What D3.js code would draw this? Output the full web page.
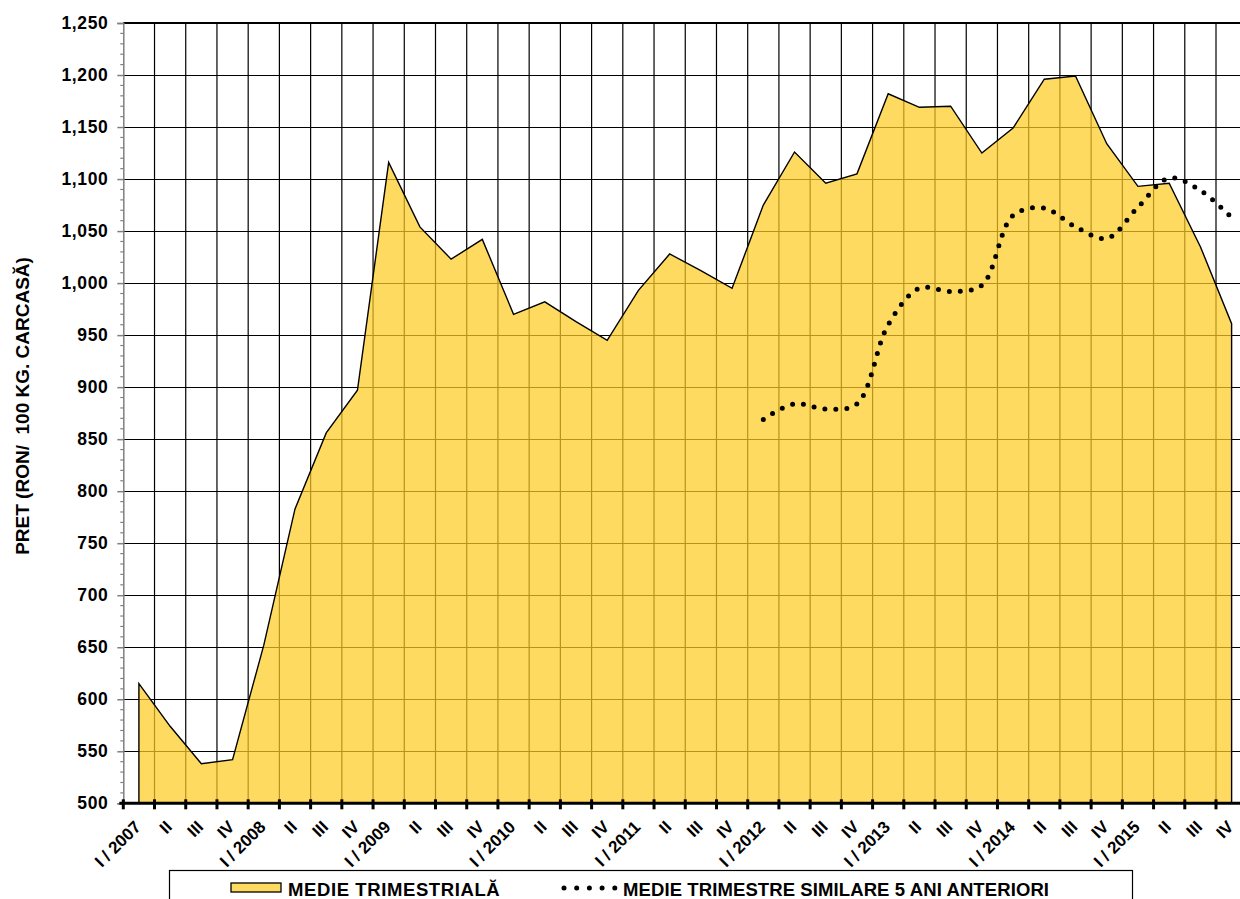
<!DOCTYPE html>
<html>
<head>
<meta charset="utf-8">
<script src="https://cdn.jsdelivr.net/npm/d3@7"></script>
<style>
  html, body { margin: 0; padding: 0; background: #fff; overflow: hidden; }
  svg { display: block; font-family: "Liberation Sans", Arial, sans-serif; font-weight: bold; }
</style>
</head>
<body>
<div id="container"></div>
<script>
// quarters I/2007 .. IV/2015
const quarters = ["I / 2007", "II", "III", "IV", "I / 2008", "II", "III", "IV", "I / 2009", "II", "III", "IV",
                  "I / 2010", "II", "III", "IV", "I / 2011", "II", "III", "IV", "I / 2012", "II", "III", "IV",
                  "I / 2013", "II", "III", "IV", "I / 2014", "II", "III", "IV", "I / 2015", "II", "III", "IV"];
const avgQuarter = [615, 574, 538, 542, 652, 783, 856, 897, 1116, 1054, 1023, 1042,
                    970, 982, 963, 945, 993, 1028, 1012, 995, 1075, 1126, 1096, 1105,
                    1182, 1169, 1170, 1125, 1149, 1196, 1199, 1134, 1093, 1096, 1035, 961];
const avg5Years = [null, null, null, null, null, null, null, null, null, null, null, null,
                   null, null, null, null, null, null, null, null, 869, 884, 879, 884,
                   960, 995, 992, 998, 1065, 1072, 1054, 1043, 1073, 1101, 1089, 1063];
const yTicks = [500, 550, 600, 650, 700, 750, 800, 850, 900, 950, 1000, 1050, 1100, 1150, 1200, 1250];
const legendLabels = ["MEDIE TRIMESTRIALĂ", "MEDIE TRIMESTRE SIMILARE 5 ANI ANTERIORI"];
const yTitle = "PRET (RON/  100 KG. CARCASĂ)";

const width = 1240;
const height = 899;
const plot = { left: 123.3, right: 123.3 + 36 * 31.22, top: 23, bottom: 803.3 };

const svg = d3.select("#container")
              .append("svg")
              .attr("width", width)
              .attr("height", height);

const idx = quarters.map((d, i) => i);
const xScale = d3.scaleBand()
                 .domain(idx)
                 .range([plot.left, plot.right])
                 .padding(0);
const bw = xScale.bandwidth();
const cx = (i) => xScale(i) + bw / 2;

const yScale = d3.scaleLinear()
                 .domain([500, 1250])
                 .range([plot.bottom, plot.top]);

// grid
const grid = svg.append("g").attr("id", "grid");
grid.selectAll("line.h")
    .data(yTicks.slice(1))
    .enter()
    .append("line")
    .attr("class", "h")
    .attr("x1", plot.left)
    .attr("x2", plot.right)
    .attr("y1", (d) => Math.round(yScale(d)) + 0.5)
    .attr("y2", (d) => Math.round(yScale(d)) + 0.5)
    .attr("stroke", "#000")
    .attr("stroke-width", 1.2);
grid.selectAll("line.v")
    .data(idx.slice(1))
    .enter()
    .append("line")
    .attr("class", "v")
    .attr("x1", (d) => xScale(d))
    .attr("x2", (d) => xScale(d))
    .attr("y1", plot.top)
    .attr("y2", plot.bottom)
    .attr("stroke", "#000")
    .attr("stroke-width", 1.2);

// area series
const area = d3.area()
               .x((d, i) => cx(i))
               .y0(yScale(500))
               .y1((d) => yScale(d));
svg.append("path")
   .datum(avgQuarter)
   .attr("d", area)
   .attr("fill", "#FFCC22")
   .attr("fill-opacity", 0.72)
   .attr("stroke", "#000")
   .attr("stroke-width", 1.4)
   .attr("stroke-linejoin", "miter");

// top border
svg.append("line")
   .attr("x1", plot.left)
   .attr("x2", plot.right)
   .attr("y1", plot.top)
   .attr("y2", plot.top)
   .attr("stroke", "#000")
   .attr("stroke-width", 2);

// y axis (grey, minor ticks every 10)
const yAxis = d3.axisLeft(yScale)
                .tickValues(yTicks)
                .tickSize(6)
                .tickPadding(9)
                .tickFormat(d3.format(","));
const yG = svg.append("g")
              .attr("transform", "translate(" + plot.left + ",0)")
              .call(yAxis);
yG.select(".domain").attr("stroke", "#808080").attr("stroke-width", 1.5);
yG.selectAll(".tick line").attr("stroke", "#808080").attr("stroke-width", 1.5);
yG.selectAll(".tick text")
  .attr("fill", "#000")
  .style("font-size", "17.5px")
  .style("letter-spacing", "0.6px")
  .style("font-weight", "bold")
  .style("font-family", "'Liberation Sans', Arial, sans-serif");
yG.append("g")
  .selectAll("line")
  .data(d3.range(510, 1250, 10).filter((d) => d % 50 != 0))
  .enter()
  .append("line")
  .attr("x1", -3)
  .attr("x2", 0)
  .attr("y1", (d) => yScale(d))
  .attr("y2", (d) => yScale(d))
  .attr("stroke", "#808080")
  .attr("stroke-width", 1.2);

// x axis
const xG = svg.append("g").attr("id", "x-axis");
xG.append("line")
  .attr("x1", plot.left - 4)
  .attr("x2", plot.right)
  .attr("y1", plot.bottom)
  .attr("y2", plot.bottom)
  .attr("stroke", "#000")
  .attr("stroke-width", 3);
xG.selectAll("line.tick")
  .data(idx.concat([36]))
  .enter()
  .append("line")
  .attr("class", "tick")
  .attr("x1", (d) => plot.left + d * bw)
  .attr("x2", (d) => plot.left + d * bw)
  .attr("y1", plot.bottom - 4)
  .attr("y2", plot.bottom + 6)
  .attr("stroke", "#000")
  .attr("stroke-width", 3);
xG.selectAll("text")
  .data(quarters)
  .enter()
  .append("text")
  .text((d) => d)
  .attr("text-anchor", "end")
  .attr("transform", (d, i) => "translate(" + (cx(i) + 3) + "," + 828 + ")rotate(-45)")
  .style("font-size", "17px");

// dotted series
const line = d3.line()
               .defined((d) => d != null)
               .x((d, i) => cx(i))
               .y((d) => yScale(d))
               .curve(d3.curveCatmullRom);
svg.append("path")
   .datum(avg5Years)
   .attr("d", line)
   .attr("fill", "none")
   .attr("stroke", "#000")
   .attr("stroke-width", 5)
   .attr("stroke-linecap", "round")
   .attr("stroke-dasharray", "0 11");

// y title
svg.append("text")
   .text(yTitle)
   .attr("text-anchor", "middle")
   .attr("transform", "translate(29,406)rotate(-90)")
   .style("font-size", "19px")
   .attr("xml:space", "preserve")
   .style("white-space", "pre");

// legend
const legend = svg.append("g").attr("id", "legend");
legend.append("rect")
      .attr("x", 169.5)
      .attr("y", 870.5)
      .attr("width", 963)
      .attr("height", 60)
      .attr("fill", "#fff")
      .attr("stroke", "#000")
      .attr("stroke-width", 1.2);
legend.append("rect")
      .attr("x", 231)
      .attr("y", 883)
      .attr("width", 50)
      .attr("height", 9)
      .attr("fill", "#FFCC22")
      .attr("fill-opacity", 0.72)
      .attr("stroke", "#000")
      .attr("stroke-width", 1.3);
legend.append("text")
      .text(legendLabels[0])
      .attr("x", 288)
      .attr("y", 896)
      .style("font-size", "18.5px")
      .style("letter-spacing", "0.6px");
legend.append("line")
      .attr("x1", 564)
      .attr("x2", 616)
      .attr("y1", 888)
      .attr("y2", 888)
      .attr("stroke", "#000")
      .attr("stroke-width", 5)
      .attr("stroke-linecap", "round")
      .attr("stroke-dasharray", "0 12.7");
legend.append("text")
      .text(legendLabels[1])
      .attr("x", 623)
      .attr("y", 896)
      .style("font-size", "18.5px")
      .style("letter-spacing", "0.1px");
</script>
</body>
</html>
